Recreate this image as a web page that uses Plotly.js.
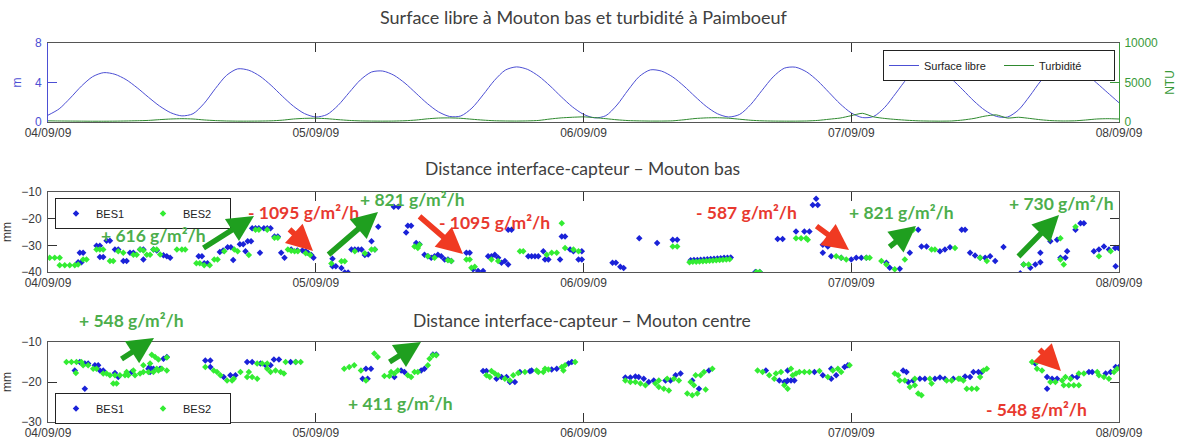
<!DOCTYPE html>
<html>
<head>
<meta charset="utf-8">
<script src="https://cdn.plot.ly/plotly-3.0.1.min.js"></script>
<style>
  html, body { margin: 0; padding: 0; background: #fff; }
  #chart { width: 1182px; height: 443px; }
</style>
</head>
<body>
<div id="chart"></div>
<script>
// ---- Time axis (hours from 04/09/09 00:00) ----
const dayTicks = [0, 24, 48, 72, 96];
const dayLabels = ['04/09/09', '05/09/09', '06/09/09', '07/09/09', '08/09/09'];
const ntuTicks = [0, 5000, 10000];
const ntuLabels = ['0', '5000', '10000'];

// ---- Surface libre (m) at Mouton bas, hourly from 04/09/09 00:00 ----
const surfaceStepHours = 1;
const surfaceLibre = [
  0.69, 1.33, 2.43, 3.64, 4.59, 5.00, 4.83, 4.29, 3.46, 2.51, 1.62, 0.94,
  0.62, 0.84, 1.89, 3.38, 4.72, 5.38, 5.24, 4.64, 3.71, 2.62, 1.60, 0.85,
  0.51, 0.75, 1.68, 2.99, 4.26, 5.06, 5.16, 4.74, 3.93, 2.90, 1.87, 1.03,
  0.56, 0.61, 1.41, 2.75, 4.19, 5.26, 5.58, 5.32, 4.63, 3.66, 2.56, 1.54,
  0.78, 0.42, 0.64, 1.72, 3.24, 4.61, 5.28, 5.15, 4.56, 3.64, 2.58, 1.58,
  0.84, 0.51, 0.77, 1.78, 3.20, 4.57, 5.45, 5.55, 5.07, 4.16, 3.00, 1.84,
  0.92, 0.45, 0.56, 1.48, 2.92, 4.39, 5.38, 5.57, 5.17, 4.35, 3.26, 2.12,
  1.17, 0.57, 0.50, 1.23, 2.63, 4.17, 5.29, 5.55, 5.45, 4.90, 3.95, 2.95,
  1.95
];

// ---- Turbidité (NTU) at Paimboeuf, hourly ----
const turbidite = [
  150, 130, 120, 110, 100, 100, 110, 130, 160, 200, 300, 380,
  420, 380, 260, 180, 130, 110, 110, 120, 150, 230, 380, 460,
  480, 420, 300, 200, 140, 120, 110, 120, 160, 250, 400, 500,
  520, 470, 350, 240, 160, 130, 120, 140, 200, 380, 520, 600,
  650, 560, 420, 280, 180, 140, 120, 120, 150, 280, 440, 520,
  540, 480, 350, 220, 150, 120, 110, 110, 130, 200, 350, 500,
  800, 1100, 650, 450, 320, 220, 150, 120, 110, 130, 250, 450,
  750, 900, 500, 600, 450, 280, 170, 130, 150, 250, 380, 420,
  380
];

// ---- Distance interface-capteur, Mouton bas (mm): [hour, value] ----
const basBES1 = [
  [2.7,-36.3],[3.0,-36.3],[2.85,-32.8],[3.15,-32.8],[4.35,-30.2],[4.65,-30.2],[5.25,-28.3],[5.55,-28.3],
  [4.65,-34.4],[4.95,-34.4],[6.0,-31.6],[6.3,-31.6],[6.75,-35.9],[7.05,-35.9],[7.35,-32.8],[7.65,-32.8],
  [8.25,-31.6],[8.55,-31.6],[8.55,-35.3],[9.45,-31.6],[9.75,-31.9],[10.35,-33.7],[10.65,-34.1],[10.95,-34.7],
  [13.5,-34.1],[13.8,-34.1],[14.0,-36.7],[14.3,-36.7],[15.4,-32.5],[15.7,-31.9],[16.1,-30.7],[16.4,-30.7],
  [16.6,-35.5],[17.2,-29.6],[17.5,-29.6],[17.7,-32.2],[17.9,-28.5],[18.2,-28.5],[18.3,-23.6],[18.6,-23.6],
  [18.9,-23.6],[19.0,-32.8],[19.35,-23.6],[19.65,-23.6],[19.95,-23.6],[20.3,-26.7],[20.6,-26.7],[20.9,-32.8],
  [21.2,-34.7],[21.8,-31.6],[22.35,-31.9],[22.8,-31.9],[23.1,-32.2],[23.3,-32.8],[23.6,-33.6],[23.8,-34.7],
  [25.5,-35.0],[25.5,-37.8],[25.8,-37.8],[26.3,-38.5],[26.6,-40.2],[26.9,-40.2],[27.2,-31.6],[27.5,-31.6],
  [27.8,-31.6],[28.1,-31.6],[28.4,-33.6],[28.7,-33.4],[29.0,-28.5],[29.3,-31.6],[29.6,-23.0],[31.0,-15.5],
  [31.4,-15.5],[32.1,-25.2],[32.25,-22.7],[32.55,-22.7],[33.0,-29.1],[33.3,-29.6],[33.75,-33.5],[34.05,-34.1],
  [34.35,-34.7],[34.65,-34.1],[34.95,-33.5],[35.25,-34.1],[35.55,-35.3],[35.85,-35.3],[36.15,-35.9],[37.5,-32.8],
  [37.8,-32.8],[38.1,-39.0],[38.55,-39.6],[39.0,-39.6],[39.45,-34.1],[39.75,-34.1],[40.05,-33.5],[40.35,-34.7],
  [40.65,-36.5],[40.95,-35.9],[41.25,-37.2],[41.25,-24.2],[41.55,-24.2],[43.05,-34.1],[43.35,-34.1],[43.65,-34.1],
  [43.95,-34.1],[44.4,-32.2],[44.55,-35.3],[44.85,-35.3],[45.9,-35.3],[46.05,-26.7],[46.35,-26.7],[46.8,-31.6],
  [47.1,-32.2],[47.55,-35.3],[47.85,-35.3],[47.85,-32.2],
  [50.6,-36.5],[50.9,-36.5],[51.3,-38.0],[51.6,-38.5],[53.0,-27.3],[54.6,-29.1],[56.0,-27.9],[56.4,-27.9],
  [57.6,-35.6],[57.9,-35.5],[58.2,-35.5],[58.5,-35.4],[58.8,-35.3],[59.1,-35.2],[59.4,-35.1],[59.7,-35.0],
  [60.0,-34.9],[60.3,-34.8],[60.6,-34.7],[60.9,-34.7],[61.2,-34.6],[63.4,-40.0],[63.8,-40.0],[65.4,-27.6],
  [65.85,-27.6],[67.05,-24.8],[67.8,-24.8],[68.25,-24.8],[68.55,-14.9],[69.0,-14.9],[68.85,-12.5],[69.45,-29.8],
  [69.9,-30.4],[69.45,-32.8],[70.2,-34.1],[71.1,-34.7],[72.0,-35.3],[72.45,-34.7],[72.9,-34.7],[73.35,-34.7],
  [75.15,-36.5],[75.45,-38.4],[76.35,-38.8],[77.25,-32.8],[78.0,-24.2],[78.3,-30.4],[78.75,-30.4],[79.95,-32.2],
  [80.4,-31.6],[80.85,-30.7],[81.9,-24.2],[82.2,-24.2],[82.65,-32.8],[83.1,-33.8],[83.55,-34.7],[84.0,-34.7],
  [84.45,-34.1],[84.9,-35.9],[85.65,-30.6],[87.15,-40.5],[87.45,-37.2],[88.05,-38.4],[88.5,-37.2],[88.95,-36.3],
  [88.95,-32.8],[89.85,-28.5],[90.45,-27.9],[90.75,-34.7],[91.2,-34.7],[91.35,-32.2],[92.1,-24.2],[92.55,-21.7],
  [92.85,-21.7],[93.75,-32.2],[94.2,-31.6],[94.65,-30.4],[95.1,-31.6],[95.7,-37.8],[95.65,-31.0],[95.95,-31.0]
];
const basBES2 = [
  [0.15,-34.7],[0.6,-34.7],[1.05,-34.7],[1.05,-37.5],[1.5,-37.5],[1.95,-37.5],[2.4,-37.5],[2.7,-37.2],
  [3.15,-35.3],[3.45,-35.3],[4.35,-31.6],[4.65,-31.6],[4.95,-31.6],[5.55,-35.9],[5.85,-35.9],[6.3,-32.2],
  [6.75,-32.8],[7.65,-33.5],[7.95,-33.5],[8.25,-31.6],[8.55,-31.9],[8.85,-33.5],[9.15,-33.5],[9.45,-31.6],
  [9.75,-31.6],[10.05,-33.4],[11.55,-31.6],[12.0,-31.6],[12.3,-31.6],
  [13.3,-36.7],[13.6,-36.7],[14.0,-37.5],[14.5,-37.5],[14.9,-35.3],[15.2,-35.3],[15.8,-32.2],[16.7,-31.6],
  [17.0,-32.2],[18.0,-33.6],[18.6,-24.2],[18.9,-24.2],[19.65,-24.2],[20.3,-27.2],[20.6,-27.2],[21.5,-31.6],
  [21.8,-32.0],[22.1,-32.2],[22.4,-32.2],[23.1,-33.0],[23.5,-33.6],
  [25.4,-36.8],[26.3,-36.0],[26.6,-36.0],[27.5,-32.2],[28.4,-33.0],[29.0,-31.6],[29.3,-31.6],[32.85,-30.4],
  [33.15,-31.0],[33.3,-29.8],[34.05,-34.1],[34.65,-34.7],[35.85,-35.6],[36.15,-35.9],[37.5,-35.3],[37.8,-35.3],
  [37.95,-38.4],[38.25,-38.0],[39.75,-35.3],[40.35,-35.9],[42.3,-32.2],[42.6,-32.2],[44.7,-33.5],[45.15,-32.8],
  [45.6,-32.8],[46.05,-21.7],[46.35,-31.0],[47.1,-31.6],[47.55,-32.2],
  [56.0,-30.4],[56.4,-30.4],[57.5,-36.3],[57.8,-36.2],[58.1,-36.2],[58.4,-36.1],[58.7,-36.0],[59.0,-35.9],
  [59.3,-35.8],[59.6,-35.7],[59.9,-35.6],[60.2,-35.5],[60.5,-35.4],[60.8,-35.3],[61.1,-35.2],[63.5,-40.0],
  [63.8,-40.0],[67.05,-27.3],[67.5,-27.3],[67.95,-27.3],[68.1,-27.9],[70.65,-34.1],[71.1,-34.7],[71.55,-35.3],
  [73.35,-34.7],[73.65,-34.7],[74.7,-35.9],[75.15,-37.2],[75.9,-39.0],[76.8,-35.3],[77.55,-24.2],[79.2,-31.6],
  [79.5,-31.6],[81.3,-31.0],[83.55,-34.7],[84.15,-35.9],[87.45,-37.2],[87.9,-37.2],[90.75,-27.3],[91.05,-37.2],
  [90.75,-35.3],[92.1,-23.0],[94.2,-34.1],[95.25,-32.2]
];

// ---- Distance interface-capteur, Mouton centre (mm): [hour, value] ----
const centreBES1 = [
  [2.4,-17.1],[2.85,-15.0],[3.3,-15.4],[3.6,-15.4],[3.3,-21.7],[4.2,-15.8],[4.5,-15.8],[4.65,-17.1],
  [4.95,-17.1],[6.0,-17.75],[6.3,-18.75],[7.5,-17.5],[9.0,-16.7],[9.45,-16.7],[9.1,-16.25],[9.15,-17.5],
  [10.05,-16.7],[10.35,-14.2],[10.65,-13.75],
  [14.1,-14.6],[14.55,-14.6],[14.55,-16.25],[15.75,-18.75],[16.35,-18.3],[16.8,-18.3],[17.85,-15.0],[18.3,-15.0],
  [19.05,-15.4],[19.5,-15.8],[19.95,-15.8],[20.25,-14.4],[20.7,-14.4],[21.75,-15.0],[22.2,-15.0],
  [28.2,-19.2],[28.65,-19.2],[28.5,-16.7],[28.95,-16.7],[31.05,-18.75],[31.65,-17.1],[31.95,-17.5],[33.45,-17.1],
  [33.75,-16.7],[34.5,-13.1],[34.8,-13.1],
  [39.0,-17.25],[39.3,-17.25],[40.2,-19.2],[40.65,-18.75],[41.1,-18.75],[41.4,-20.0],[41.85,-20.0],[42.3,-17.5],
  [43.2,-17.3],[43.35,-17.1],[45.15,-16.9],[45.6,-16.7],[46.65,-15.4],[46.95,-15.0],
  [51.75,-18.9],[52.2,-18.9],[52.65,-18.6],[52.95,-18.75],[53.4,-19.2],[53.85,-20.0],[54.3,-19.6],[55.35,-19.6],
  [55.8,-19.6],[56.25,-18.3],[56.7,-17.9],[57.75,-19.6],[58.35,-21.7],[59.25,-17.1],
  [64.35,-17.1],[65.55,-19.6],[66.0,-20.0],[66.3,-19.6],[66.3,-17.1],[66.15,-20.0],[66.6,-19.6],[66.9,-19.6],
  [68.7,-17.5],[69.45,-18.3],[70.2,-19.2],[70.2,-16.7],[70.65,-18.3],[71.4,-16.25],[71.7,-15.8],
  [76.65,-17.1],[76.95,-17.5],[77.1,-20.0],[77.55,-19.6],[78.15,-19.2],[78.6,-19.2],[79.5,-19.2],[79.95,-18.9],
  [80.4,-19.2],[81.15,-19.2],[82.2,-18.6],[82.65,-18.75],[82.95,-17.5],[83.4,-17.5],[83.7,-17.5],
  [88.5,-15.4],[89.55,-18.75],[90.0,-19.2],[89.55,-21.7],[90.45,-19.2],[91.8,-18.75],[92.25,-18.75],[93.3,-17.5],
  [93.6,-17.5],[94.8,-17.9],[95.25,-17.5],[95.7,-16.25],[96.0,-16.25]
];
const centreBES2 = [
  [1.65,-15.0],[2.1,-15.0],[2.55,-15.0],[3.0,-15.0],[2.5,-17.75],[3.15,-15.8],[3.6,-15.8],[4.05,-16.7],
  [4.35,-16.7],[4.95,-17.9],[5.25,-17.9],[5.55,-18.3],[6.0,-18.3],[5.85,-20.4],[6.15,-20.4],[6.45,-18.3],
  [6.9,-18.3],[7.2,-18.3],[7.05,-17.5],[7.65,-17.1],[7.8,-18.3],[8.25,-17.9],[8.55,-17.5],[9.0,-17.5],
  [9.45,-17.5],[8.55,-15.8],[9.15,-15.4],[9.3,-13.2],[9.6,-13.75],[9.75,-16.7],[10.2,-16.7],[9.9,-14.4],
  [9.9,-17.1],[10.65,-17.1],[10.65,-13.9],
  [14.1,-16.25],[14.85,-17.1],[15.15,-17.5],[15.45,-18.3],[16.05,-19.6],[16.5,-19.6],[16.65,-19.2],[17.25,-17.5],
  [18.0,-17.5],[17.85,-18.75],[18.3,-18.75],[18.75,-19.2],[18.75,-15.4],[19.2,-15.4],[19.65,-15.4],[19.65,-16.7],
  [19.95,-17.5],[20.4,-17.1],[20.85,-17.5],[21.15,-17.9],[21.3,-15.0],[22.2,-15.0],[22.65,-15.0],
  [26.55,-16.7],[27.0,-16.25],[27.45,-15.8],[28.05,-17.1],[28.5,-19.6],[29.25,-12.9],[29.55,-13.75],[30.15,-18.5],
  [30.6,-18.5],[30.75,-17.5],[31.05,-17.9],[31.35,-17.1],[32.25,-18.3],[32.55,-18.75],[32.85,-17.5],[33.15,-17.5],
  [34.05,-15.8],[34.2,-14.2],[34.5,-13.3],[34.8,-13.3],
  [39.75,-17.25],[39.3,-18.3],[39.6,-18.75],[40.05,-17.9],[40.35,-18.3],[40.95,-19.2],[41.4,-19.6],[41.7,-18.3],
  [42.15,-17.75],[42.75,-17.5],[43.8,-17.1],[43.95,-17.5],[44.4,-17.5],[44.55,-16.7],[44.85,-16.9],[46.05,-16.25],
  [46.2,-17.1],[46.35,-15.8],[47.25,-15.0],
  [51.75,-19.6],[52.2,-20.0],[52.65,-20.0],[53.1,-20.4],[53.55,-20.8],[54.45,-20.4],[54.75,-21.25],[54.75,-19.6],
  [55.2,-21.7],[55.65,-22.1],[55.5,-19.2],[56.1,-19.2],[56.55,-19.6],[57.3,-22.9],[57.75,-23.3],[58.2,-22.9],
  [57.6,-20.0],[57.9,-20.8],[58.05,-18.3],[58.5,-18.3],[58.95,-21.9],[58.8,-17.5],[59.55,-16.7],
  [63.6,-17.1],[64.05,-17.5],[64.65,-18.3],[65.1,-19.2],[65.25,-17.9],[65.7,-17.5],[66.0,-20.8],[66.6,-16.7],
  [66.3,-21.7],[66.75,-18.3],[67.05,-17.9],[67.35,-17.5],[67.8,-17.5],[68.25,-17.5],[69.15,-17.25],[69.9,-18.75],
  [70.35,-17.1],[70.8,-16.7],[71.1,-17.5],[71.85,-15.8],
  [75.9,-17.9],[76.2,-18.3],[76.35,-19.6],[76.8,-19.6],[77.25,-21.25],[77.7,-20.8],[78.0,-22.9],[78.3,-23.3],
  [77.7,-19.2],[79.05,-19.2],[79.2,-20.4],[80.55,-19.6],[81.0,-19.6],[81.6,-19.2],[81.75,-19.2],[82.05,-19.6],
  [82.35,-21.7],[82.8,-21.7],[83.25,-21.7],[83.55,-18.75],[83.85,-17.1],[84.15,-16.7],
  [88.2,-15.0],[88.65,-15.0],[88.65,-16.7],[89.1,-17.1],[89.85,-20.0],[90.3,-20.0],[90.9,-19.6],[91.2,-18.75],
  [91.65,-19.2],[91.05,-20.8],[91.5,-20.8],[91.95,-20.8],[92.4,-20.8],[92.4,-17.9],[92.85,-17.9],[94.05,-17.5],
  [94.2,-18.3],[94.65,-18.75],[95.1,-19.2],[95.55,-17.5],[95.85,-16.7]
];

// ---- Deposition / erosion rates written over the panels ----
const rateLabels = [
  { text: '+ 616 g/m²/h',  up: true,  at: [153, 235] },
  { text: '- 1095 g/m²/h', up: false, at: [303, 212] },
  { text: '+ 821 g/m²/h',  up: true,  at: [412, 200] },
  { text: '- 1095 g/m²/h', up: false, at: [494, 223] },
  { text: '- 587 g/m²/h',  up: false, at: [746, 212] },
  { text: '+ 821 g/m²/h',  up: true,  at: [901, 212] },
  { text: '+ 730 g/m²/h',  up: true,  at: [1061, 203] },
  { text: '+ 548 g/m²/h',  up: true,  at: [131, 320] },
  { text: '+ 411 g/m²/h',  up: true,  at: [400, 403] },
  { text: '- 548 g/m²/h',  up: false, at: [1036, 409] }
];
// arrows: [tailX, tailY, headX, headY] in page pixels
const rateArrows = [
  { up: true,  seg: [202, 249, 254, 216] },
  { up: false, seg: [288, 228, 313, 251] },
  { up: true,  seg: [327, 256, 378, 212] },
  { up: false, seg: [418, 215, 463, 254] },
  { up: false, seg: [815, 225, 849, 250] },
  { up: true,  seg: [888, 248, 916, 226] },
  { up: true,  seg: [1017, 258, 1059, 215] },
  { up: true,  seg: [120, 360, 154, 338] },
  { up: true,  seg: [388, 363, 421, 342] },
  { up: false, seg: [1038, 348, 1061, 371] }
];

const W = 1182, H = 443;
const px = x => x / W;
const py = y => 1 - y / H;

const BLUE_LINE = '#4c4fd4';
const GREEN_LINE = '#2f8a2f';
const BES1_COLOR = '#1a22d8';
const BES2_COLOR = '#33ec33';
const TEXT_GREEN = '#4cae4c';
const TEXT_RED = '#e8392f';
const ARROW_GREEN = '#1f9f1f';
const ARROW_RED = '#f03a22';

const hours = surfaceLibre.map((_, i) => i * surfaceStepHours);

function markerTrace(points, name, color, xa, ya, legendId) {
  return {
    type: 'scatter', mode: 'markers', name: name,
    x: points.map(p => p[0]), y: points.map(p => p[1]),
    xaxis: xa, yaxis: ya, legend: legendId, showlegend: true,
    marker: { symbol: 'diamond', size: 5, color: color, line: { width: 0 } },
    cliponaxis: true, hoverinfo: 'x+y'
  };
}

const traces = [
  {
    type: 'scatter', mode: 'lines', name: 'Surface libre',
    x: hours, y: surfaceLibre, xaxis: 'x', yaxis: 'y', legend: 'legend',
    line: { color: BLUE_LINE, width: 1, shape: 'spline', smoothing: 0.8 }
  },
  {
    type: 'scatter', mode: 'lines', name: 'Turbidité',
    x: hours, y: turbidite, xaxis: 'x', yaxis: 'y4', legend: 'legend',
    line: { color: GREEN_LINE, width: 1, shape: 'spline', smoothing: 0.6 }
  },
  markerTrace(basBES1, 'BES1', BES1_COLOR, 'x2', 'y2', 'legend2'),
  markerTrace(basBES2, 'BES2', BES2_COLOR, 'x2', 'y2', 'legend2'),
  markerTrace(centreBES1, 'BES1', BES1_COLOR, 'x3', 'y3', 'legend3'),
  markerTrace(centreBES2, 'BES2', BES2_COLOR, 'x3', 'y3', 'legend3')
];

const FONT = 'Liberation Sans, Arial, sans-serif';
const tickFont = { family: FONT, size: 12, color: '#3a3a3a' };
const xDomain = [px(48), px(1119)];

function timeAxis(anchor) {
  return {
    domain: xDomain, anchor: anchor, range: [0, 96],
    tickmode: 'array', tickvals: dayTicks, ticktext: dayLabels,
    ticks: 'inside', ticklen: 9, tickwidth: 1, tickcolor: '#333',
    showline: true, linecolor: '#555', linewidth: 1, mirror: 'ticks',
    showgrid: false, zeroline: false, tickfont: tickFont, fixedrange: true
  };
}
function depthAxis(top, bottom, range, vals, anchor) {
  return {
    domain: [py(bottom), py(top)], anchor: anchor, range: range,
    tickmode: 'array', tickvals: vals,
    ticks: 'inside', ticklen: 9, tickwidth: 1, tickcolor: '#333',
    showline: true, linecolor: '#555', linewidth: 1, mirror: 'ticks',
    showgrid: false, zeroline: false, tickfont: tickFont, ticklabelstandoff: 3,
    title: { text: 'mm', font: { family: FONT, size: 12, color: '#333' }, standoff: 8 }
  };
}

const titleFont = { family: 'Lato, "Open Sans", sans-serif', size: 17.5, color: '#404040' };
const annotations = [
  { text: 'Surface libre à Mouton bas et turbidité à Paimboeuf', x: px(584), y: py(17), size: 18 },
  { text: 'Distance interface-capteur – Mouton bas', x: px(582), y: py(168), size: 17.5 },
  { text: 'Distance interface-capteur – Mouton centre', x: px(582), y: py(320), size: 17.5 }
].map(a => ({ xref: 'paper', yref: 'paper', showarrow: false, text: a.text, x: a.x, y: a.y,
  font: Object.assign({}, titleFont, { size: a.size }), xanchor: 'center', yanchor: 'middle' }));

rateLabels.forEach(r => annotations.push({
  xref: 'paper', yref: 'paper', x: px(r.at[0]), y: py(r.at[1]),
  text: r.text, showarrow: false, xanchor: 'center', yanchor: 'middle',
  font: { family: 'Lato, "Open Sans", sans-serif', size: 17.5, weight: 'bold',
          color: r.up ? TEXT_GREEN : TEXT_RED }
}));
rateArrows.forEach(a => {
  const [tx, ty, hx, hy] = a.seg;
  annotations.push({
    xref: 'paper', yref: 'paper', x: px(hx), y: py(hy),
    axref: 'pixel', ayref: 'pixel', ax: tx - hx, ay: ty - hy,
    text: '', showarrow: true, arrowhead: 2, arrowsize: 0.95, arrowwidth: 5.5,
    arrowcolor: a.up ? ARROW_GREEN : ARROW_RED, standoff: 0, startstandoff: 0
  });
});

const legendBase = {
  orientation: 'h', xanchor: 'left', yanchor: 'top',
  bgcolor: '#ffffff', bordercolor: '#222', borderwidth: 1,
  font: { family: FONT, size: 11, color: '#222' }, entrywidthmode: 'pixels'
};

const layout = {
  width: W, height: H, margin: { l: 0, r: 0, t: 0, b: 0 },
  paper_bgcolor: '#ffffff', plot_bgcolor: '#ffffff', showlegend: true,
  xaxis: timeAxis('y'),
  xaxis2: timeAxis('y2'),
  xaxis3: timeAxis('y3'),
  yaxis: {
    domain: [py(122), py(43)], anchor: 'x', range: [0, 8],
    tickmode: 'array', tickvals: [0, 4, 8],
    ticks: 'inside', ticklen: 9, tickcolor: BLUE_LINE,
    showline: true, linecolor: BLUE_LINE, mirror: false,
    showgrid: false, zeroline: false, ticklabelstandoff: 3,
    tickfont: { family: FONT, size: 12, color: BLUE_LINE },
    title: { text: 'm', font: { family: FONT, size: 12, color: BLUE_LINE }, standoff: 10 }
  },
  yaxis4: {
    overlaying: 'y', side: 'right', anchor: 'x', range: [0, 10000],
    tickmode: 'array', tickvals: ntuTicks, ticktext: ntuLabels,
    ticks: 'inside', ticklen: 9, tickcolor: '#3a9a3a',
    showline: true, linecolor: '#3a9a3a',
    showgrid: false, zeroline: false, ticklabelstandoff: 2,
    tickfont: { family: FONT, size: 12, color: '#3a9a3a' },
    title: { text: 'NTU', font: { family: FONT, size: 12, color: '#3a9a3a' }, standoff: 8 }
  },
  yaxis2: depthAxis(192, 272, [-40, -10], [-40, -30, -20, -10], 'x2'),
  yaxis3: depthAxis(342, 422, [-30, -10], [-30, -20, -10], 'x3'),
  legend: Object.assign({}, legendBase, { x: px(883), y: py(50), entrywidth: 70 }),
  legend2: Object.assign({}, legendBase, { x: px(55), y: py(198), entrywidth: 42 }),
  legend3: Object.assign({}, legendBase, { x: px(55), y: py(393), entrywidth: 42 }),
  annotations: annotations
};

Plotly.newPlot('chart', traces, layout, { staticPlot: true, displayModeBar: false });
</script>
</body>
</html>
